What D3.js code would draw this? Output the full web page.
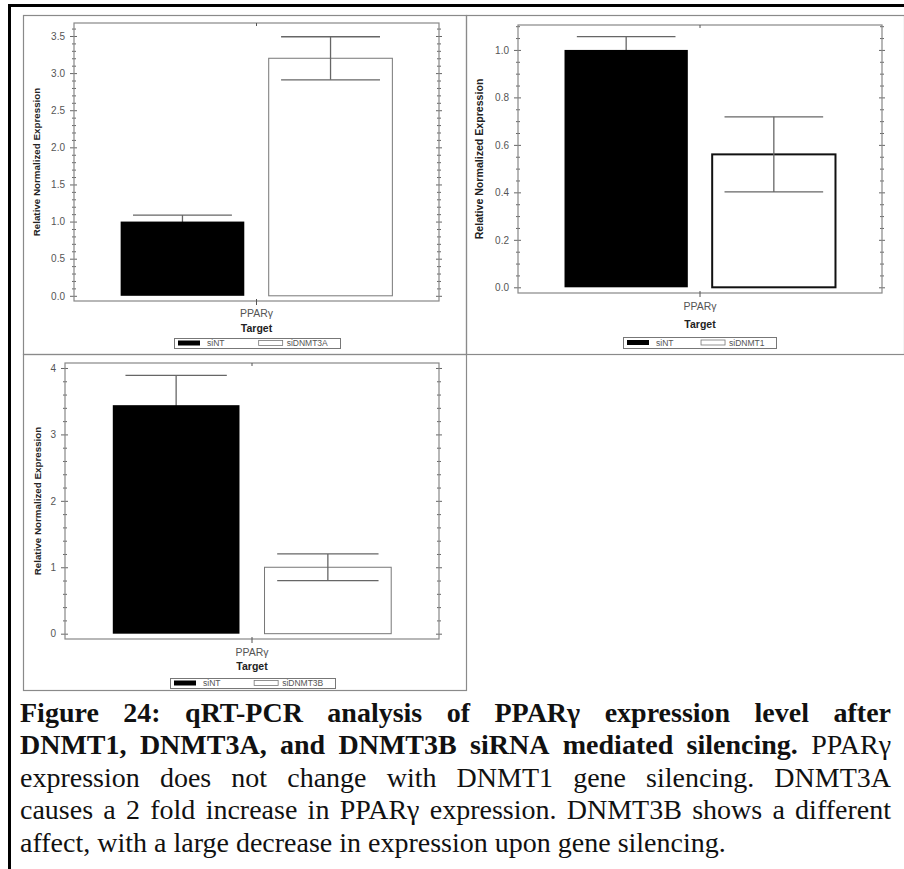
<!DOCTYPE html>
<html>
<head>
<meta charset="utf-8">
<script src="https://cdn.jsdelivr.net/npm/d3@7"></script>
<style>
  body { margin: 0; background: #fff; }
  svg { display: block; }
</style>
</head>
<body>
<div id="chart"></div>
<script>
// Data
const knockdowns = ["siDNMT3A", "siDNMT1", "siDNMT3B"];
const controlLabel = "siNT";
const targetLabel = "PPARγ";
const siNTValues = [1.0, 1.0, 3.44];
const siNTErrors = [0.088, 0.056, 0.45];
const siKDValues = [3.2, 0.56, 1.0];
const siKDErrors = [0.29, 0.158, 0.2];
const yTicksA = [0, 0.5, 1.0, 1.5, 2.0, 2.5, 3.0, 3.5];
const yTicksB = [0, 0.2, 0.4, 0.6, 0.8, 1.0];
const yTicksC = [0, 1, 2, 3, 4];

const captionLines = [
    [["Figure 24: qRT-PCR analysis of PPARγ expression level after", true]],
    [["DNMT1, DNMT3A, and DNMT3B siRNA mediated silencing.", true], ["PPARγ", false]],
    [["expression does not change with DNMT1 gene silencing. DNMT3A", false]],
    [["causes a 2 fold increase in PPARγ expression. DNMT3B shows a different", false]],
    [["affect, with a large decrease in expression upon gene silencing.", false]]
];

// Layout
const width = 904, height = 869;
const panels = [
    { frame: [23, 15, 466, 354], plot: [74, 23, 439, 301], domain: [-0.07, 3.675], ticks: yTicksA, minor: 0.1, fmt: ".1f",
      yLabelX: 37, yLabelSize: 9.8, catY: 317, titleY: 332, legend: [174, 338, 166, 10], kdStroke: "#777", kdWidth: 1 },
    { frame: [466, 15, 904, 354], plot: [518, 25, 882, 293], domain: [-0.024, 1.105], ticks: yTicksB, minor: 0.05, fmt: ".1f",
      yLabelX: 479, yLabelSize: 10.6, catY: 310, titleY: 328, legend: [623, 337, 153, 11], kdStroke: "#111", kdWidth: 2 },
    { frame: [23, 354, 466, 690], plot: [65, 363, 439, 639], domain: [-0.08, 4.075], ticks: yTicksC, minor: 0.2, fmt: "d",
      yLabelX: 38, yLabelSize: 9.8, catY: 656, titleY: 670, legend: [170, 678, 165, 10], kdStroke: "#777", kdWidth: 1 }
];

const svg = d3.select("#chart")
    .append("svg")
    .attr("width", width)
    .attr("height", height)
    .style("font-family", "'Liberation Sans', Arial, sans-serif");

svg.append("rect").attr("width", width).attr("height", height).attr("fill", "#fff");

// Outer thick frame (top and left edges visible)
svg.append("rect").attr("x", 8).attr("y", 4).attr("width", width).attr("height", 3).attr("fill", "#000");
svg.append("rect").attr("x", 8).attr("y", 4).attr("width", 3).attr("height", height).attr("fill", "#000");

panels.forEach((p, i) => {
    const g = svg.append("g");
    const [fx0, fy0, fx1, fy1] = p.frame;
    const [x0, y0, x1, y1] = p.plot;

    g.append("rect")
        .attr("x", fx0 + 0.5).attr("y", fy0 + 0.5)
        .attr("width", fx1 - fx0).attr("height", fy1 - fy0)
        .attr("fill", "none").attr("stroke", "#8a8a8a").attr("stroke-width", 1.2);

    const y = d3.scaleLinear().domain(p.domain).range([y1, y0]);
    const x = d3.scaleBand()
        .domain([controlLabel, knockdowns[i]])
        .range([x0, x1])
        .paddingInner(0.165)
        .paddingOuter(0.315);

    const minorTicks = d3.range(0, p.domain[1], p.minor)
        .filter(v => !p.ticks.some(t => Math.abs(t - v) < 1e-6));

    // left axis: major + minor ticks crossing the axis line
    const left = g.append("g").attr("transform", `translate(${x0},0)`);
    left.call(d3.axisLeft(y).tickValues(p.ticks).tickFormat(d3.format(p.fmt)).tickSize(4).tickPadding(5));
    left.selectAll(".tick line").attr("x2", -4).attr("x1", 3);
    left.append("g").call(d3.axisLeft(y).tickValues(minorTicks).tickFormat("").tickSize(2))
        .selectAll(".tick line").attr("x1", 2);

    const right = g.append("g").attr("transform", `translate(${x1},0)`);
    right.call(d3.axisRight(y).tickValues(p.ticks).tickFormat("").tickSize(3));
    right.selectAll(".tick line").attr("x1", -3);
    right.append("g").call(d3.axisRight(y).tickValues(minorTicks).tickFormat("").tickSize(2))
        .selectAll(".tick line").attr("x1", -2);

    g.selectAll(".domain").remove();
    g.selectAll(".tick line").attr("stroke", "#666");
    g.selectAll(".tick text").attr("fill", "#555").style("font-size", "10px");

    // plot frame
    g.append("rect")
        .attr("x", x0).attr("y", y0).attr("width", x1 - x0).attr("height", y1 - y0)
        .attr("fill", "none").attr("stroke", "#888").attr("stroke-width", 1.2);

    // center ticks top and bottom
    const xc = (x0 + x1) / 2;
    g.append("line").attr("x1", xc).attr("x2", xc).attr("y1", y1 - 2).attr("y2", y1 + 4).attr("stroke", "#555");
    g.append("line").attr("x1", xc).attr("x2", xc).attr("y1", y0).attr("y2", y0 + 3).attr("stroke", "#555");

    const bw = x.bandwidth();
    const capW = bw * 0.8;

    // knockdown bar, then error bars, then control bar on top
    const kdX = x(knockdowns[i]);
    g.append("rect")
        .attr("x", kdX).attr("y", y(siKDValues[i]))
        .attr("width", bw).attr("height", y(0) - y(siKDValues[i]))
        .attr("fill", "#fff").attr("stroke", p.kdStroke).attr("stroke-width", p.kdWidth);

    const errs = [
        { key: controlLabel, v: siNTValues[i], e: siNTErrors[i] },
        { key: knockdowns[i], v: siKDValues[i], e: siKDErrors[i] }
    ];
    errs.forEach(d => {
        const cx = x(d.key) + bw / 2;
        const eg = g.append("g").attr("stroke", "#666").attr("stroke-width", 1.3);
        eg.append("line").attr("x1", cx).attr("x2", cx).attr("y1", y(d.v + d.e)).attr("y2", y(d.v - d.e));
        eg.append("line").attr("x1", cx - capW / 2).attr("x2", cx + capW / 2).attr("y1", y(d.v + d.e)).attr("y2", y(d.v + d.e));
        eg.append("line").attr("x1", cx - capW / 2).attr("x2", cx + capW / 2).attr("y1", y(d.v - d.e)).attr("y2", y(d.v - d.e));
    });

    g.append("rect")
        .attr("x", x(controlLabel)).attr("y", y(siNTValues[i]))
        .attr("width", bw).attr("height", y(0) - y(siNTValues[i]))
        .attr("fill", "#000");

    // axis titles
    g.append("text")
        .attr("transform", `translate(${p.yLabelX},${(y0 + y1) / 2}) rotate(-90)`)
        .attr("text-anchor", "middle").attr("dy", "0.35em")
        .style("font-size", p.yLabelSize + "px").style("font-weight", "bold").attr("fill", "#222")
        .text("Relative Normalized Expression");

    g.append("text").attr("x", xc).attr("y", p.catY).attr("text-anchor", "middle")
        .style("font-size", "10.5px").attr("fill", "#555").text(targetLabel);
    g.append("text").attr("x", xc).attr("y", p.titleY).attr("text-anchor", "middle")
        .style("font-size", "10.5px").style("font-weight", "bold").attr("fill", "#222").text("Target");

    // legend
    const [lx, ly, lw, lh] = p.legend;
    const lg = g.append("g").attr("transform", `translate(${lx},${ly})`);
    lg.append("rect").attr("x", 0.5).attr("y", 0.5).attr("width", lw).attr("height", lh)
        .attr("fill", "#fff").attr("stroke", "#777");
    lg.append("rect").attr("x", 4).attr("y", lh / 2 - 2.5).attr("width", 22).attr("height", 5).attr("fill", "#000");
    lg.append("text").attr("x", 33).attr("y", lh / 2 + 3).style("font-size", "8.5px").attr("fill", "#555").text(controlLabel);
    lg.append("rect").attr("x", lw * 0.51).attr("y", lh / 2 - 2.5).attr("width", 24).attr("height", 5)
        .attr("fill", "#fff").attr("stroke", "#777").attr("stroke-width", 0.8);
    lg.append("text").attr("x", lw * 0.51 + 28).attr("y", lh / 2 + 3).style("font-size", "8.5px").attr("fill", "#555").text(knockdowns[i]);
});

// Caption, justified word by word
const capLeft = 20, capRight = 891, capSize = 28;
const baselines = [722, 754, 787, 819, 852];

const measure = svg.append("text").style("font-family", "'Liberation Serif', 'Times New Roman', serif").style("font-size", capSize + "px");
function wordWidth(w, bold) {
    measure.style("font-weight", bold ? "bold" : "normal").text(w);
    return measure.node().getComputedTextLength();
}

captionLines.forEach((runs, li) => {
    const words = [];
    runs.forEach(([t, b]) => t.split(" ").forEach(w => words.push({ w, b, width: wordWidth(w, b) })));
    const target = capRight - capLeft;
    const total = d3.sum(words, d => d.width);
    const gap = li < captionLines.length - 1 ? (target - total) / (words.length - 1) : capSize * 0.25;
    const lg = svg.append("g").attr("transform", `translate(${capLeft},${baselines[li]})`);
    let cx = 0;
    words.forEach(d => {
        lg.append("text").attr("x", cx).attr("y", 0)
            .style("font-family", "'Liberation Serif', 'Times New Roman', serif")
            .style("font-size", capSize + "px")
            .style("font-weight", d.b ? "bold" : "normal")
            .attr("fill", "#111")
            .text(d.w);
        cx += d.width + gap;
    });
});
measure.remove();
</script>
</body>
</html>
